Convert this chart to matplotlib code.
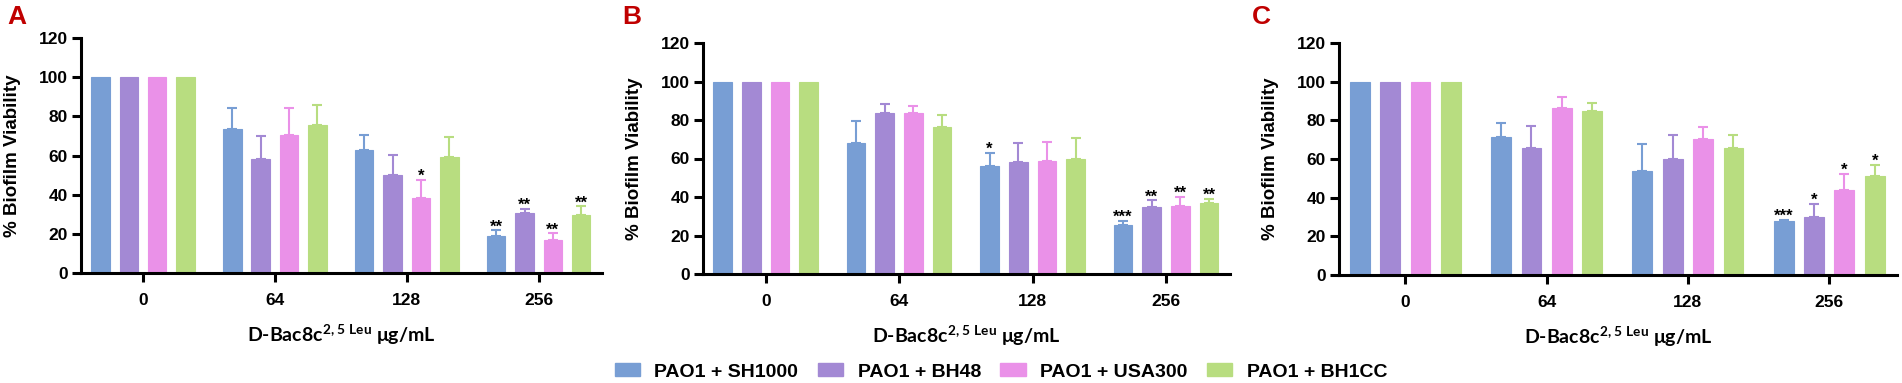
import numpy as np
import matplotlib

matplotlib.use("Agg")
import matplotlib.pyplot as plt
from matplotlib.patches import Patch

plt.rcParams.update({
    "font.family": ["Liberation Sans", "DejaVu Sans"],
    "font.weight": "bold",
    "mathtext.fontset": "custom",
    "mathtext.rm": "Lato:bold",
    "mathtext.bf": "Lato:bold",
})

# ---- data ----
concentrations = ["0", "64", "128", "256"]
strains = ["PAO1 + SH1000", "PAO1 + BH48", "PAO1 + USA300", "PAO1 + BH1CC"]
colors = ["#789ed4", "#a389d4", "#ea91e8", "#b8dd80"]

# panel A
a_sh1000 = [100, 73.6, 63.0, 18.8]
a_bh48 = [100, 58.3, 50.0, 30.8]
a_usa300 = [100, 70.4, 38.4, 16.8]
a_bh1cc = [100, 75.8, 59.0, 29.8]
a_sh1000_err = [0, 10.6, 7.7, 3.0]
a_bh48_err = [0, 11.9, 10.3, 1.9]
a_usa300_err = [0, 13.8, 9.0, 3.4]
a_bh1cc_err = [0, 10.2, 10.2, 4.2]
a_stars = [["", "", "", "**"], ["", "", "", "**"], ["", "", "*", "**"], ["", "", "", "**"]]

# panel B
b_sh1000 = [100, 67.8, 56.1, 25.4]
b_bh48 = [100, 83.6, 58.4, 34.7]
b_usa300 = [100, 83.6, 58.9, 35.2]
b_bh1cc = [100, 76.5, 59.9, 37.0]
b_sh1000_err = [0, 11.5, 6.9, 2.2]
b_bh48_err = [0, 4.5, 9.6, 3.5]
b_usa300_err = [0, 3.5, 9.7, 4.9]
b_bh1cc_err = [0, 6.0, 10.7, 2.2]
b_stars = [["", "", "*", "***"], ["", "", "", "**"], ["", "", "", "**"], ["", "", "", "**"]]

# panel C
c_sh1000 = [100, 71.3, 53.8, 28.0]
c_bh48 = [100, 65.8, 60.1, 30.1]
c_usa300 = [100, 86.6, 70.1, 44.2]
c_bh1cc = [100, 84.7, 65.6, 51.4]
c_sh1000_err = [0, 7.4, 14.1, 0.4]
c_bh48_err = [0, 11.5, 12.2, 6.5]
c_usa300_err = [0, 5.3, 6.7, 8.2]
c_bh1cc_err = [0, 4.2, 6.6, 5.6]
c_stars = [["", "", "", "***"], ["", "", "", "*"], ["", "", "", "*"], ["", "", "", "*"]]

panels = [
    ("A", [a_sh1000, a_bh48, a_usa300, a_bh1cc],
     [a_sh1000_err, a_bh48_err, a_usa300_err, a_bh1cc_err], a_stars),
    ("B", [b_sh1000, b_bh48, b_usa300, b_bh1cc],
     [b_sh1000_err, b_bh48_err, b_usa300_err, b_bh1cc_err], b_stars),
    ("C", [c_sh1000, c_bh48, c_usa300, c_bh1cc],
     [c_sh1000_err, c_bh48_err, c_usa300_err, c_bh1cc_err], c_stars),
]

W, H = 1902, 383
fig = plt.figure(figsize=(W / 100, H / 100), dpi=100)

# axes boxes in pixels: left, right, top(y=120), bottom(y=0)
boxes = [(81, 602, 38, 273), (703, 1230, 43, 274), (1339, 1897, 43, 275)]
letter_x = [7, 622, 1252]

pitch = 0.215
width = 0.14
x = np.arange(len(concentrations))

for (letter, means, errs, stars), (l, r, t, b), lx in zip(panels, boxes, letter_x):
    ax = fig.add_axes([l / W, 1 - b / H, (r - l) / W, (b - t) / H])
    for i, (m, e, s) in enumerate(zip(means, errs, stars)):
        xs = x + (i - 1.5) * pitch
        m = np.asarray(m, float)
        e = np.asarray(e, float)
        ax.bar(xs, m, width=width, color=colors[i], edgecolor=colors[i], lw=0.8, zorder=2)
        has = e > 0  # no whisker on the normalised 0 µg/mL bars
        ax.errorbar(xs[has], m[has], yerr=[np.zeros(has.sum()), e[has]], fmt="none",
                    ecolor=colors[i], elinewidth=1.5, capsize=3.3, capthick=1.5, zorder=1)
        for xi, mi, ei, si in zip(xs, m, e, s):
            if si:
                ax.text(xi, mi + ei - 0.5, si, ha="center", va="baseline",
                        fontsize=12, fontweight="bold", color="black")
    ax.set_xlim(-0.47, 3.48)
    ax.set_ylim(0, 120)
    ax.set_yticks(range(0, 121, 20))
    ax.set_xticks(x)
    ax.set_xticklabels(concentrations)
    for sp in ("top", "right"):
        ax.spines[sp].set_visible(False)
    for sp in ("left", "bottom"):
        ax.spines[sp].set_linewidth(2.2)
    ax.tick_params(axis="both", width=2.2, length=6.5, labelsize=12.5, pad=3)
    ax.tick_params(axis="x", pad=8)
    ax.set_ylabel("% Biofilm Viability", fontsize=13.5, fontweight="bold")
    ax.yaxis.set_label_coords(-60 / (r - l), 0.5)
    ax.set_xlabel(r"D-Bac8c$^{\mathrm{2,5\ Leu}}$ μg/mL", fontsize=14,
                  family=["Lato", "DejaVu Sans"], fontweight="bold", labelpad=10)
    fig.text(lx / W, 1 - 5 / H, letter, ha="left", va="top", fontsize=19,
             fontweight="bold", color="#c00000")

handles = [Patch(facecolor=c, edgecolor=c) for c in colors]
fig.legend(handles, strains, loc="center", bbox_to_anchor=(1001 / W, 1 - 372 / H),
           ncol=4, frameon=False, handlelength=1.3, handleheight=0.6,
           handletextpad=0.75, columnspacing=1.0, borderpad=0,
           prop={"weight": "bold", "size": 14})

fig.savefig("out.png", dpi=100)
